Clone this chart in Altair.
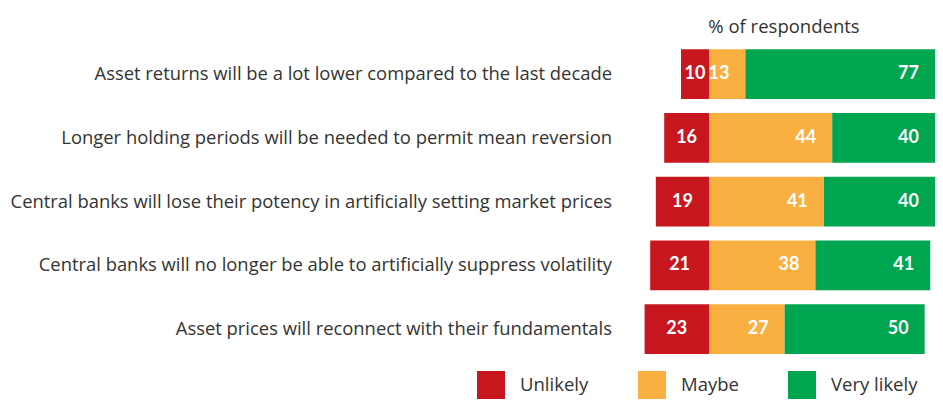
import altair as alt
import pandas as pd

statements = [
    "Asset returns will be a lot lower compared to the last decade",
    "Longer holding periods will be needed to permit mean reversion",
    "Central banks will lose their potency in artificially setting market prices",
    "Central banks will no longer be able to artificially suppress volatility",
    "Asset prices will reconnect with their fundamentals",
]
unlikely = [10, 16, 19, 21, 23]
maybe = [13, 44, 41, 38, 27]
very_likely = [77, 40, 40, 41, 50]
categories = ["Unlikely", "Maybe", "Very likely"]
colors = ["#C8161F", "#F9B041", "#00A550"]

rows = []
for s, u, m, v in zip(statements, unlikely, maybe, very_likely):
    rows.append({"statement": s, "response": "Unlikely", "start": -u, "end": 0, "value": u})
    rows.append({"statement": s, "response": "Maybe", "start": 0, "end": m, "value": m})
    rows.append({"statement": s, "response": "Very likely", "start": m, "end": m + v, "value": v})
df = pd.DataFrame(rows)

FONT = "Open Sans"
NUM_FONT = "Lato"
TEXT_COLOR = "#333333"

xscale = alt.Scale(domain=[-23, 80.7], range=[636.6, 927], clamp=True, nice=False)
yscale = alt.Scale(domain=statements, range=[34.25, 353], paddingInner=0.21875, paddingOuter=0.109375)

base = alt.Chart(df)

bars = base.mark_bar().encode(
    x=alt.X("start:Q", scale=xscale, axis=None),
    x2="end:Q",
    y=alt.Y("statement:N", scale=yscale, axis=None, sort=statements),
    color=alt.Color(
        "response:N",
        scale=alt.Scale(domain=categories, range=colors),
        legend=alt.Legend(
            orient="none",
            legendX=469,
            legendY=363,
            direction="horizontal",
            title=None,
            symbolType="square",
            symbolSize=784,
            symbolStrokeWidth=0,
            symbolOpacity=1,
            labelFont=FONT,
            labelFontSize=18.5,
            labelColor=TEXT_COLOR,
            labelOffset=15,
            columnPadding=49,
            padding=0,
        ),
    ),
)

red_labels = base.transform_filter(alt.datum.response == "Unlikely").transform_calculate(
    mid="datum.start / 2"
).mark_text(font=NUM_FONT, fontSize=18, fontWeight="bold", color="white", align="center", baseline="middle").encode(
    x=alt.X("mid:Q", scale=xscale),
    y=alt.Y("statement:N", scale=yscale, sort=statements),
    text="value:Q",
)

right_labels = base.transform_filter(alt.datum.response != "Unlikely").mark_text(
    font=NUM_FONT, fontSize=18, fontWeight="bold", color="white", align="right", baseline="middle", dx=-16
).encode(
    x=alt.X("end:Q", scale=xscale),
    y=alt.Y("statement:N", scale=yscale, sort=statements),
    text="value:Q",
)

cat_labels = alt.Chart(pd.DataFrame({"statement": statements})).mark_text(
    font=FONT, fontSize=18.4, color=TEXT_COLOR, align="right", baseline="middle"
).encode(
    x=alt.value(604),
    y=alt.Y("statement:N", scale=yscale, sort=statements),
    text="statement:N",
)

title = alt.Chart(pd.DataFrame({"t": ["% of respondents"]})).mark_text(
    font=FONT, fontSize=18.5, color=TEXT_COLOR, align="center", baseline="alphabetic"
).encode(x=alt.value(776), y=alt.value(25), text="t:N")

chart = alt.layer(bars, red_labels, right_labels, cat_labels, title).properties(
    width=927, height=391, autosize=alt.AutoSizeParams(type="none"), padding=0
).configure_view(stroke=None)

chart.save("out.html", embed_options={"renderer": "svg", "actions": False})
